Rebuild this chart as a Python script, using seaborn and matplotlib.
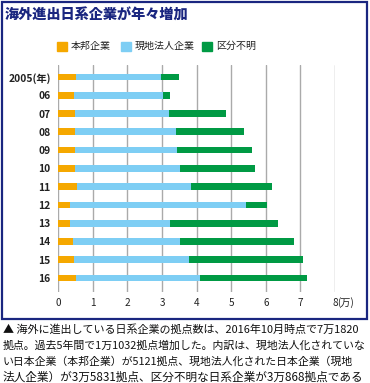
import pandas as pd
import seaborn as sns
import matplotlib.pyplot as plt
from matplotlib.patches import Rectangle

# values in 万 (10,000) sites
years = ['2005(年)', '06', '07', '08', '09', '10', '11', '12', '13', '14', '15', '16']
honpo = [0.51, 0.44, 0.48, 0.48, 0.48, 0.48, 0.54, 0.34, 0.34, 0.42, 0.44, 0.5121]
genchi = [2.47, 2.59, 2.73, 2.92, 2.96, 3.04, 3.29, 5.08, 2.89, 3.11, 3.34, 3.5831]
fumei = [0.51, 0.21, 1.64, 1.98, 2.17, 2.17, 2.36, 0.60, 3.13, 3.28, 3.29, 3.0868]
series_names = ['本邦企業', '現地法人企業', '区分不明']
x_ticks = [0, 1, 2, 3, 4, 5, 6, 7, 8]

ORANGE = '#F5A800'
BLUE = '#7ECEF4'
GREEN = '#009A44'
NAVY = '#1A2680'
GRID = '#AAAAAA'

sns.set_style('white')
plt.rcParams['font.family'] = ['Noto Sans CJK JP', 'DejaVu Sans']

df = pd.DataFrame({'year': years, 'honpo': honpo, 'genchi': genchi, 'fumei': fumei})
df['lvl2'] = df['honpo'] + df['genchi']
df['lvl3'] = df['lvl2'] + df['fumei']

W, H = 370, 383
fig = plt.figure(figsize=(W / 100, H / 100), dpi=100)

# axes placed in pixel terms
ax_l, ax_r, ax_t, ax_b = 58.3, 335.0, 65.0, 292.0
ax = fig.add_axes([ax_l / W, 1 - ax_b / H, (ax_r - ax_l) / W, (ax_b - ax_t) / H])

for col, c in [('lvl3', GREEN), ('lvl2', BLUE), ('honpo', ORANGE)]:
    sns.barplot(data=df, x=col, y='year', orient='h', color=c, width=0.37,
                saturation=1, linewidth=0, ax=ax)

ax.set_xlim(0, 8)
ax.set_ylim(11.77, -0.66)
ax.set_xticks(x_ticks)
ax.set_xticklabels([str(t) for t in x_ticks], fontsize=7.2, color='#222222')
ax.set_yticks(range(len(years)))
ax.set_yticklabels(years, fontsize=7.4, fontweight='bold', color='#222222')
ax.tick_params(axis='y', length=0, pad=5.5)
ax.tick_params(axis='x', length=0, pad=4)
ax.set_xlabel('')
ax.set_ylabel('')
ax.grid(axis='x', color=GRID, linewidth=1)
ax.grid(axis='y', visible=False)
ax.set_axisbelow(True)
for s in ax.spines.values():
    s.set_visible(False)
ax.text(8.06, -0.024, '(万)', transform=ax.get_xaxis_transform(), ha='left', va='top',
        fontsize=7.2, color='#222222')

# frame
fig.patches.append(Rectangle((1.5 / W, 1 - 318.5 / H), 365.5 / W, 317 / H,
                             transform=fig.transFigure, fill=False,
                             edgecolor=NAVY, linewidth=1.6))

# title
fig.text(5 / W, 1 - 16 / H, '海外進出日系企業が年々増加', fontsize=10.2,
         fontweight='heavy', color=NAVY, va='center', ha='left')

# legend
for x0, c, name in [(57, ORANGE, series_names[0]), (121, BLUE, series_names[1]),
                    (202, GREEN, series_names[2])]:
    fig.patches.append(Rectangle((x0 / W, 1 - 50.5 / H), 9.5 / W, 9 / H,
                                 transform=fig.transFigure, color=c))
    fig.text((x0 + 14) / W, 1 - 46 / H, name, fontsize=7.2, va='center',
             ha='left', color='#222222')

# caption, each line fitted to the width it takes in the original
caption = [
    '▲ 海外に進出している日系企業の拠点数は、2016年10月時点で7万1820',
    '拠点。過去5年間で1万1032拠点増加した。内訳は、現地法人化されていな',
    'い日本企業（本邦企業）が5121拠点、現地法人化された日本企業（現地',
    '法人企業）が3万5831拠点、区分不明な日系企業が3万868拠点である',
]
line_ends = [361, 366, 353, 366]
renderer = fig.canvas.get_renderer()
for i, line in enumerate(caption):
    t = fig.text(3 / W, 1 - (332.5 + i * 16.0) / H, line, fontsize=8.0,
                 va='baseline', ha='left', color='#111111')
    w = t.get_window_extent(renderer).width
    t.set_fontsize(min(8.4, 8.0 * (line_ends[i] - 3) / w))

plt.savefig('out.png', dpi=100)
plt.close()
